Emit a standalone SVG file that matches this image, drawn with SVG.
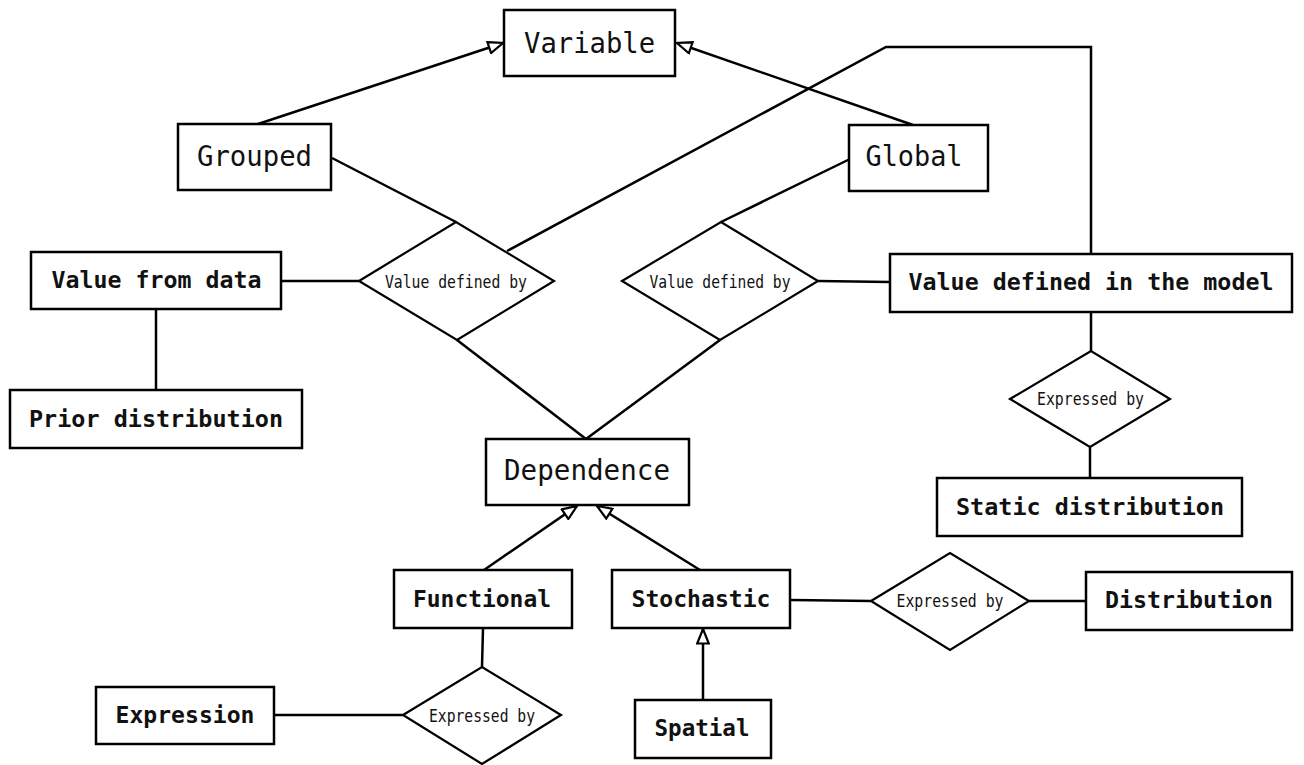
<svg xmlns="http://www.w3.org/2000/svg" width="1304" height="765" viewBox="0 0 1304 765">
<style>
.box{fill:#fff;stroke:#000;stroke-width:2.5}
.dia{fill:#fff;stroke:#000;stroke-width:2.2}
.ln{fill:none;stroke:#000;stroke-width:2.5}
.t{font-family:"DejaVu Sans Mono","Liberation Mono",monospace;text-anchor:middle;fill:#111}
.big{font-size:28px}
.bold{font-size:23px;font-weight:bold}
.sm{font-size:17px}
</style>
<defs>
<marker id="tri" viewBox="0 0 17 14" refX="16" refY="7" markerWidth="17" markerHeight="14" orient="auto" markerUnits="userSpaceOnUse">
<path d="M1.5,1.2 L16,7 L1.5,12.8 Z" fill="#fff" stroke="#000" stroke-width="2.2"/>
</marker>
</defs>
<rect width="1304" height="765" fill="#fff"/>
<g id="connectors">
<line class="ln" x1="258" y1="124" x2="503" y2="43" marker-end="url(#tri)"/>
<line class="ln" x1="913" y1="125" x2="677" y2="43" marker-end="url(#tri)"/>
<line class="ln" x1="332" y1="158" x2="456" y2="222"/>
<line class="ln" x1="850" y1="159" x2="721" y2="222"/>
<line class="ln" x1="281" y1="281" x2="359" y2="281"/>
<line class="ln" x1="818" y1="281" x2="890" y2="282"/>
<line class="ln" x1="156" y1="309" x2="156" y2="390"/>
<polyline class="ln" points="507,251 886,47 1091,47 1091,254"/>
<line class="ln" x1="457" y1="340" x2="586" y2="439"/>
<line class="ln" x1="720" y1="340" x2="586" y2="439"/>
<line class="ln" x1="1091" y1="312" x2="1091" y2="351"/>
<line class="ln" x1="1090" y1="447" x2="1090" y2="478"/>
<line class="ln" x1="484" y1="570" x2="577" y2="506" marker-end="url(#tri)"/>
<line class="ln" x1="700" y1="570" x2="597" y2="506" marker-end="url(#tri)"/>
<line class="ln" x1="703" y1="700" x2="703" y2="629" marker-end="url(#tri)"/>
<line class="ln" x1="791" y1="600" x2="871" y2="601"/>
<line class="ln" x1="1029" y1="601" x2="1086" y2="601"/>
<line class="ln" x1="483" y1="628" x2="482" y2="667"/>
<line class="ln" x1="274" y1="715" x2="403" y2="715"/>
</g>
<g id="variable"><rect class="box" x="504" y="10" width="171" height="66"/><text class="t big" x="589.5" y="53" textLength="131" lengthAdjust="spacingAndGlyphs">Variable</text></g>
<g id="grouped"><rect class="box" x="178" y="124" width="153" height="66"/><text class="t big" x="254.5" y="166" textLength="115" lengthAdjust="spacingAndGlyphs">Grouped</text></g>
<g id="global"><rect class="box" x="849" y="125" width="139" height="66"/><text class="t big" x="914" y="166" textLength="97" lengthAdjust="spacingAndGlyphs">Global</text></g>
<g id="value-from-data"><rect class="box" x="31" y="252" width="250" height="57"/><text class="t bold" x="156.5" y="288" textLength="210" lengthAdjust="spacingAndGlyphs">Value from data</text></g>
<g id="vdb-left"><polygon class="dia" points="359,281 456,222 554,281 457,340"/><text class="t sm" x="456" y="288" textLength="142" lengthAdjust="spacingAndGlyphs">Value defined by</text></g>
<g id="vdb-right"><polygon class="dia" points="622,281 721,222 818,281 720,340"/><text class="t sm" x="720" y="288" textLength="141" lengthAdjust="spacingAndGlyphs">Value defined by</text></g>
<g id="value-defined-in-model"><rect class="box" x="890" y="254" width="402" height="58"/><text class="t bold" x="1091" y="290" textLength="365" lengthAdjust="spacingAndGlyphs">Value defined in the model</text></g>
<g id="prior-distribution"><rect class="box" x="10" y="390" width="292" height="58"/><text class="t bold" x="156" y="427" textLength="254" lengthAdjust="spacingAndGlyphs">Prior distribution</text></g>
<g id="expressed-static"><polygon class="dia" points="1010,399 1091,351 1170,399 1090,447"/><text class="t sm" x="1090.5" y="405" textLength="107" lengthAdjust="spacingAndGlyphs">Expressed by</text></g>
<g id="dependence"><rect class="box" x="486" y="439" width="203" height="66"/><text class="t big" x="587" y="480" textLength="166" lengthAdjust="spacingAndGlyphs">Dependence</text></g>
<g id="static-distribution"><rect class="box" x="937" y="478" width="305" height="58"/><text class="t bold" x="1090" y="515" textLength="268" lengthAdjust="spacingAndGlyphs">Static distribution</text></g>
<g id="functional"><rect class="box" x="394" y="570" width="178" height="58"/><text class="t bold" x="482" y="607" textLength="138" lengthAdjust="spacingAndGlyphs">Functional</text></g>
<g id="stochastic"><rect class="box" x="612" y="570" width="178" height="58"/><text class="t bold" x="701" y="607" textLength="139" lengthAdjust="spacingAndGlyphs">Stochastic</text></g>
<g id="expressed-stochastic"><polygon class="dia" points="871,601 950,553 1029,601 950,650"/><text class="t sm" x="950" y="607" textLength="107" lengthAdjust="spacingAndGlyphs">Expressed by</text></g>
<g id="distribution"><rect class="box" x="1086" y="572" width="206" height="58"/><text class="t bold" x="1189" y="608" textLength="168" lengthAdjust="spacingAndGlyphs">Distribution</text></g>
<g id="expression"><rect class="box" x="96" y="687" width="178" height="57"/><text class="t bold" x="185" y="723" textLength="139" lengthAdjust="spacingAndGlyphs">Expression</text></g>
<g id="expressed-functional"><polygon class="dia" points="403,715 482,667 561,715 482,764"/><text class="t sm" x="482" y="722" textLength="106" lengthAdjust="spacingAndGlyphs">Expressed by</text></g>
<g id="spatial"><rect class="box" x="635" y="700" width="136" height="58"/><text class="t bold" x="702" y="736" textLength="95" lengthAdjust="spacingAndGlyphs">Spatial</text></g>
</svg>
